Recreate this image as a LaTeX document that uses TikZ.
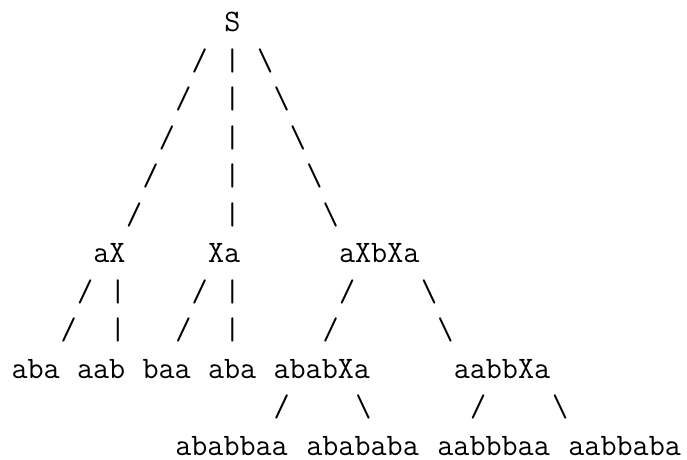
\documentclass[tikz,border=0pt]{standalone}
\usepackage{fontspec}
\begin{document}
\begin{tikzpicture}[x=16.38pt, y=-38.5pt,
  txt/.style={anchor=base west, inner sep=0pt, outer sep=0pt,
              font=\ttfamily\fontsize{31.2}{37.4}\selectfont}]
  % canvas
  \fill[white] (0pt,0pt) rectangle (687pt,-459pt);
  \useasboundingbox (0pt,0pt) rectangle (687pt,-459pt);
  % character grid: column = x, line = y
  \begin{scope}[shift={(11.5pt,-31.7pt)}]
    % root
    \node[txt] (S) at (13,0) {S};
    % branches from the root
    \node[txt] (sl1) at (11,1) {/};  \node[txt] (sm1) at (13,1) {|};  \node[txt] (sr1) at (15,1) {\textbackslash};
    \node[txt] (sl2) at (10,2) {/};  \node[txt] (sm2) at (13,2) {|};  \node[txt] (sr2) at (16,2) {\textbackslash};
    \node[txt] (sl3) at (9,3)  {/};  \node[txt] (sm3) at (13,3) {|};  \node[txt] (sr3) at (17,3) {\textbackslash};
    \node[txt] (sl4) at (8,4)  {/};  \node[txt] (sm4) at (13,4) {|};  \node[txt] (sr4) at (18,4) {\textbackslash};
    \node[txt] (sl5) at (7,5)  {/};  \node[txt] (sm5) at (13,5) {|};  \node[txt] (sr5) at (19,5) {\textbackslash};
    % second level
    \node[txt] (aX)    at (5,6)  {aX};
    \node[txt] (Xa)    at (12,6) {Xa};
    \node[txt] (aXbXa) at (20,6) {aXbXa};
    % branches from the second level
    \node[txt] (al1) at (4,7)  {/};  \node[txt] (am1) at (6,7)  {|};
    \node[txt] (bl1) at (11,7) {/};  \node[txt] (bm1) at (13,7) {|};
    \node[txt] (cl1) at (20,7) {/};  \node[txt] (cr1) at (25,7) {\textbackslash};
    \node[txt] (al2) at (3,8)  {/};  \node[txt] (am2) at (6,8)  {|};
    \node[txt] (bl2) at (10,8) {/};  \node[txt] (bm2) at (13,8) {|};
    \node[txt] (cl2) at (19,8) {/};  \node[txt] (cr2) at (26,8) {\textbackslash};
    % third level
    \node[txt] (aba1)   at (0,9)  {aba};
    \node[txt] (aab)    at (4,9)  {aab};
    \node[txt] (baa)    at (8,9)  {baa};
    \node[txt] (aba2)   at (12,9) {aba};
    \node[txt] (ababXa) at (16,9) {ababXa};
    \node[txt] (aabbXa) at (27,9) {aabbXa};
    % branches from the third level
    \node[txt] (dl) at (16,10) {/};  \node[txt] (dr) at (21,10) {\textbackslash};
    \node[txt] (el) at (28,10) {/};  \node[txt] (er) at (33,10) {\textbackslash};
    % leaves
    \node[txt] (ababbaa) at (10,11) {ababbaa};
    \node[txt] (abababa) at (18,11) {abababa};
    \node[txt] (aabbbaa) at (26,11) {aabbbaa};
    \node[txt] (aabbaba) at (34,11) {aabbaba};
  \end{scope}
\end{tikzpicture}
\end{document}
